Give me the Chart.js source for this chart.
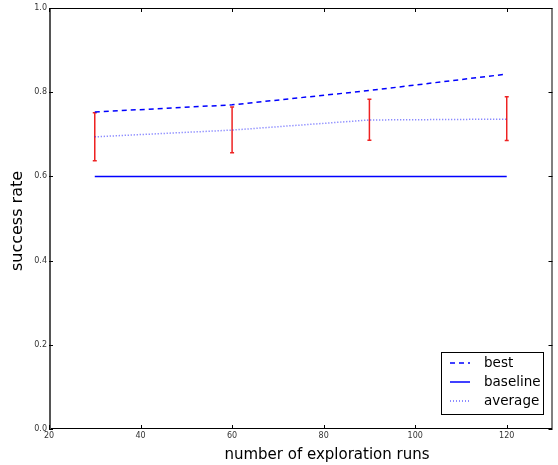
<!DOCTYPE html>
<html>
<head>
<meta charset="utf-8">
<script src="https://cdn.jsdelivr.net/npm/chart.js@4"></script>
<style>
  html, body { margin: 0; padding: 0; background: #fff; }
  #wrap { width: 558px; height: 465px; }
</style>
</head>
<body>
<div id="wrap"><canvas id="grafico" width="558" height="465"></canvas></div>
<script>
// valores
var runs = [30, 60, 90, 120];
var best = [0.753, 0.770, 0.804, 0.843];
var baseline = [0.6, 0.6, 0.6, 0.6];
var average = [0.694, 0.710, 0.734, 0.736];
var errLow = [0.637, 0.656, 0.686, 0.685];
var errHigh = [0.751, 0.765, 0.783, 0.789];

var xTicks = [20, 40, 60, 80, 100, 120];
var yTicks = [0.0, 0.2, 0.4, 0.6, 0.8, 1.0];
var xTitle = 'number of exploration runs';
var yTitle = 'success rate';

function pontos(ys) {
    return runs.map((x, i) => ({ x: x, y: ys[i] }));
}

// barras de erro: pares de pontos separados por null
var erros = [];
runs.forEach((x, i) => {
    erros.push({ x: x, y: errLow[i] });
    erros.push({ x: x, y: errHigh[i] });
    erros.push({ x: x, y: null });
});

var fonte = 'DejaVu Sans, sans-serif';

var molduraPlugin = {
    id: 'moldura',
    afterDraw(chart) {
        var ctx = chart.ctx;
        var a = chart.chartArea;
        var sx = chart.scales.x, sy = chart.scales.y;
        ctx.save();
        ctx.strokeStyle = '#000';
        ctx.lineWidth = 1;
        ctx.strokeRect(a.left + 0.5, a.top + 0.5, a.right - a.left - 1, a.bottom - a.top - 1);
        // borda esquerda um pouco mais grossa, como no original
        ctx.strokeStyle = '#555';
        ctx.lineWidth = 2;
        ctx.beginPath();
        ctx.moveTo(a.left + 1, a.top); ctx.lineTo(a.left + 1, a.bottom);
        ctx.stroke();
        // ticks para dentro
        ctx.strokeStyle = '#000';
        ctx.lineWidth = 1;
        ctx.beginPath();
        xTicks.forEach(v => {
            var px = Math.round(sx.getPixelForValue(v)) + 0.5;
            ctx.moveTo(px, a.bottom); ctx.lineTo(px, a.bottom - 4);
            ctx.moveTo(px, a.top); ctx.lineTo(px, a.top + 4);
        });
        yTicks.forEach(v => {
            var py = Math.round(sy.getPixelForValue(v)) + 0.5;
            ctx.moveTo(a.left, py); ctx.lineTo(a.left + 4, py);
            ctx.moveTo(a.right, py); ctx.lineTo(a.right - 4, py);
        });
        ctx.stroke();

        // titulos dos eixos
        ctx.fillStyle = '#000';
        ctx.font = '15px ' + fonte;
        ctx.textAlign = 'center';
        ctx.textBaseline = 'middle';
        ctx.fillText(xTitle, 327, 455);
        ctx.save();
        ctx.translate(18, 221);
        ctx.rotate(-Math.PI / 2);
        ctx.font = '16px ' + fonte;
        ctx.fillText(yTitle, 0, 0);
        ctx.restore();

        // legenda com borda
        var lx = 441, ly = 352, lw = 102, lh = 62;
        ctx.fillStyle = '#fff';
        ctx.fillRect(lx, ly, lw, lh);
        ctx.strokeStyle = '#000';
        ctx.lineWidth = 1;
        ctx.strokeRect(lx + 0.5, ly + 0.5, lw, lh);
        ctx.font = '13.5px ' + fonte;
        ctx.textAlign = 'left';
        for (var i = 0; i < 3; i++) {
            var ds = chart.data.datasets[i];
            var yy = ly + 11 + i * 19;
            ctx.strokeStyle = ds.borderColor;
            ctx.lineWidth = ds.borderWidth;
            ctx.setLineDash(ds.borderDash || []);
            ctx.beginPath();
            ctx.moveTo(450, yy); ctx.lineTo(470, yy);
            ctx.stroke();
            ctx.setLineDash([]);
            ctx.fillStyle = '#000';
            ctx.fillText(ds.label, 484, yy);
        }
        ctx.restore();
    }
};

var grafico = new Chart(document.getElementById('grafico').getContext('2d'), {
    type: 'line',
    data: {
        datasets: [{
            label: 'best',
            data: pontos(best),
            borderColor: '#0000ff',
            borderWidth: 1.5,
            borderDash: [5, 4],
            pointRadius: 0
        }, {
            label: 'baseline',
            data: pontos(baseline),
            borderColor: '#0000ff',
            borderWidth: 1.5,
            pointRadius: 0
        }, {
            label: 'average',
            data: pontos(average),
            borderColor: 'rgba(0,0,255,0.6)',
            borderWidth: 1.5,
            borderDash: [1, 2],
            pointRadius: 0
        }, {
            label: 'erro',
            data: erros,
            borderColor: '#ee2222',
            backgroundColor: '#ee2222',
            borderWidth: 1.5,
            pointStyle: 'line',
            pointRadius: 2,
            pointBorderWidth: 1.5,
            spanGaps: false
        }]
    },
    options: {
        responsive: false,
        animation: false,
        layout: { padding: { left: 0, top: 8, right: 3, bottom: 0 } },
        plugins: {
            legend: { display: false },
            tooltip: { enabled: false }
        },
        scales: {
            x: {
                type: 'linear',
                min: 20,
                max: 130,
                grid: { display: false, drawTicks: false },
                border: { display: false },
                ticks: {
                    stepSize: 20,
                    padding: 2,
                    maxRotation: 0,
                    color: '#333',
                    font: { family: fonte, size: 8 },
                    callback: v => xTicks.includes(v) ? String(v) : ''
                },
                afterFit: s => { s.height = 36; }
            },
            y: {
                min: 0,
                max: 1,
                grid: { display: false, drawTicks: false },
                border: { display: false },
                ticks: {
                    stepSize: 0.2,
                    padding: 2,
                    color: '#333',
                    font: { family: fonte, size: 8 },
                    callback: v => v.toFixed(1)
                },
                afterFit: s => { s.width = 49; }
            }
        }
    },
    plugins: [molduraPlugin]
});
</script>
</body>
</html>
